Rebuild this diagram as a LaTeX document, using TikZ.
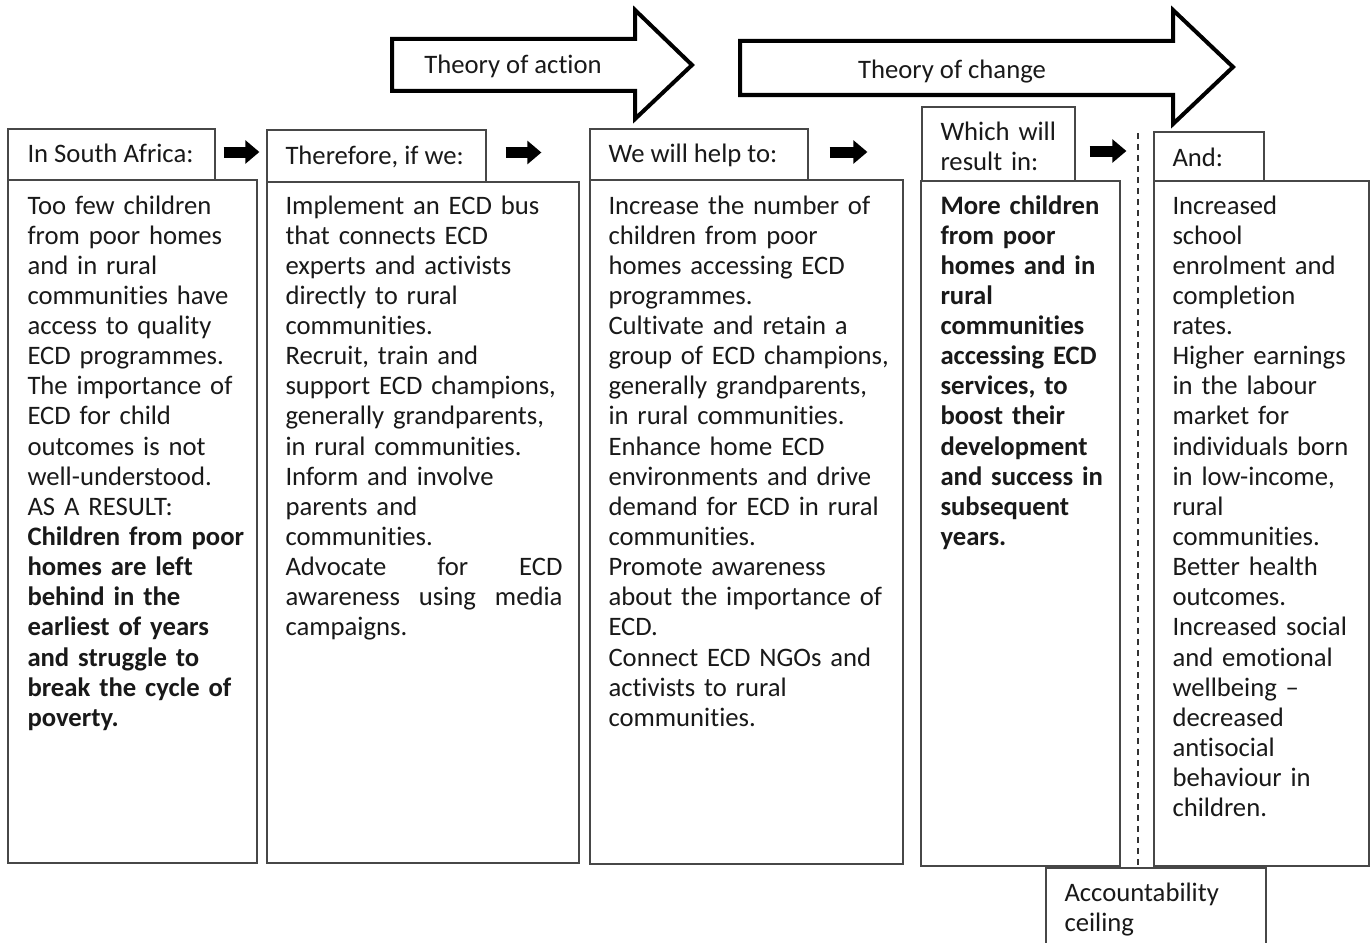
\documentclass[tikz,border=0pt]{standalone}
\usepackage{fontspec}
\setmainfont{Carlito}[Ligatures={TeX,NoCommon}]
\usetikzlibrary{arrows.meta,calc,fit}

\tikzset{every picture/.style={line width=0.75pt}}
\tikzset{
  cell/.style={draw=black!72, line width=0.9pt, inner sep=0pt, fill=white},
  txt/.style={inner sep=0pt, anchor=base west, text=black!90, font=\fontsize{20pt}{22.6pt}\selectfont},
  col/.style={txt, align=left, text width=#1},
  bigarrow/.style={draw=black, line width=3pt, fill=white, miter limit=10},
  fatarrow/.style={line width=8.25pt, black, -{Triangle[length=10.5pt,width=17pt]}},
  ceiling/.style={black!80, line width=1.1pt, dash pattern=on 4.5pt off 3.75pt}
}

\begin{document}
\begin{tikzpicture}[x=0.75pt,y=0.75pt,yscale=-1,xscale=1]
\useasboundingbox (0,0) rectangle (1370,942);

%Shape: Right Arrow [Theory of action]
\draw[bigarrow] (392,39) -- (635,39) -- (635,10) -- (692,65) -- (635,119) -- (635,91) -- (392,91) -- cycle ;
%Shape: Right Arrow [Theory of change]
\draw[bigarrow] (740,41) -- (1173,41) -- (1173,10) -- (1233,67) -- (1173,124) -- (1173,95) -- (740,95) -- cycle ;

% Text Node
\node[txt, anchor=base] (action) at (513,74) {Theory of action};
% Text Node
\node[txt, anchor=base] (change) at (952,79) {Theory of change};

%Shape: Rectangle (headers)
\node[cell, fit={(8,129) (215,180)}] (h1) {};
\node[cell, fit={(267,130) (486,182)}] (h2) {};
\node[cell, fit={(590,129) (808,180)}] (h3) {};
\node[cell, fit={(922,107) (1075,181)}] (h4) {};
\node[cell, fit={(1154,132) (1264,181)}] (h5) {};

%Shape: Rectangle (columns)
\node[cell, fit={(8,180) (257,863)}] (b1) {};
\node[cell, fit={(267,182) (579,863)}] (b2) {};
\node[cell, fit={(590,180) (903,864)}] (b3) {};
\node[cell, fit={(921,181) (1120,866)}] (b4) {};
\node[cell, fit={(1154,181) (1369,866)}] (b5) {};
\node[cell, fit={(1046,868) (1266,956)}] (acc) {};

%Straight Lines [accountability ceiling]
\draw[ceiling] (1138,133) -- (1138,866) ;

%Block arrows between headers
\draw[fatarrow] ($(h1.east)+(8,-2.5)$) -- ($(h2.west)+(-7,-4)$) ;
\draw[fatarrow] ($(h2.east)+(19,-3.5)$) -- ($(h3.west)+(-48,-2)$) ;
\draw[fatarrow] ($(h3.east)+(21,-2.5)$) -- ($(h4.west)+(-54,8)$) ;
\draw[fatarrow] ($(h4.east)+(14,7)$) -- ($(h5.west)+(-27,-5.5)$) ;

% Text Node
\node[txt] (h1t) at (27,162) {In South Africa:};
% Text Node
\node[txt] (h2t) at (285,164) {Therefore, if we:};
% Text Node
\node[txt] (h3t) at (608,162) {We will help to:};
% Text Node
\node[col=120pt] (h4t) at (940,140) {Which will\\result in:};
% Text Node
\node[txt] (h5t) at (1172,166) {And:};

% Text Node
\node[col=225pt] (t1) at (27,214) {Too few children\\
from poor homes\\
and in rural\\
communities have\\
access to quality\\
ECD programmes.\\
The importance of\\
ECD for child\\
outcomes is not\\
well-understood.\\
AS A RESULT:\\
{\bfseries Children from poor\\
homes are left\\
behind in the\\
earliest of years\\
and struggle to\\
break the cycle of\\
poverty.}};

% Text Node
\node[col=207.75pt] (t2) at (285,214) {Implement an ECD bus\\
that connects ECD\\
experts and activists\\
directly to rural\\
communities.\\
Recruit, train and\\
support ECD champions,\\
generally grandparents,\\
in rural communities.\\
Inform and involve\\
parents and\\
communities.\\
Advocate\hfill for\hfill ECD\\
awareness\hfill using\hfill media\\
campaigns.};

% Text Node
\node[col=225pt] (t3) at (608,214) {Increase the number of\\
children from poor\\
homes accessing ECD\\
programmes.\\
Cultivate and retain a\\
group of ECD champions,\\
generally grandparents,\\
in rural communities.\\
Enhance home ECD\\
environments and drive\\
demand for ECD in rural\\
communities.\\
Promote awareness\\
about the importance of\\
ECD.\\
Connect ECD NGOs and\\
activists to rural\\
communities.};

% Text Node
\node[col=180pt, font=\fontsize{20pt}{22.6pt}\selectfont\bfseries] (t4) at (940,214) {More children\\
from poor\\
homes and in\\
rural\\
communities\\
accessing ECD\\
services, to\\
boost their\\
development\\
and success in\\
subsequent\\
years.};

% Text Node
\node[col=180pt] (t5) at (1172,214) {Increased\\
school\\
enrolment and\\
completion\\
rates.\\
Higher earnings\\
in the labour\\
market for\\
individuals born\\
in low-income,\\
rural\\
communities.\\
Better health\\
outcomes.\\
Increased social\\
and emotional\\
wellbeing --\\
decreased\\
antisocial\\
behaviour in\\
children.};

% Text Node
\node[col=150pt] (acct) at (1064,901) {Accountability\\ceiling};

\end{tikzpicture}
\end{document}
